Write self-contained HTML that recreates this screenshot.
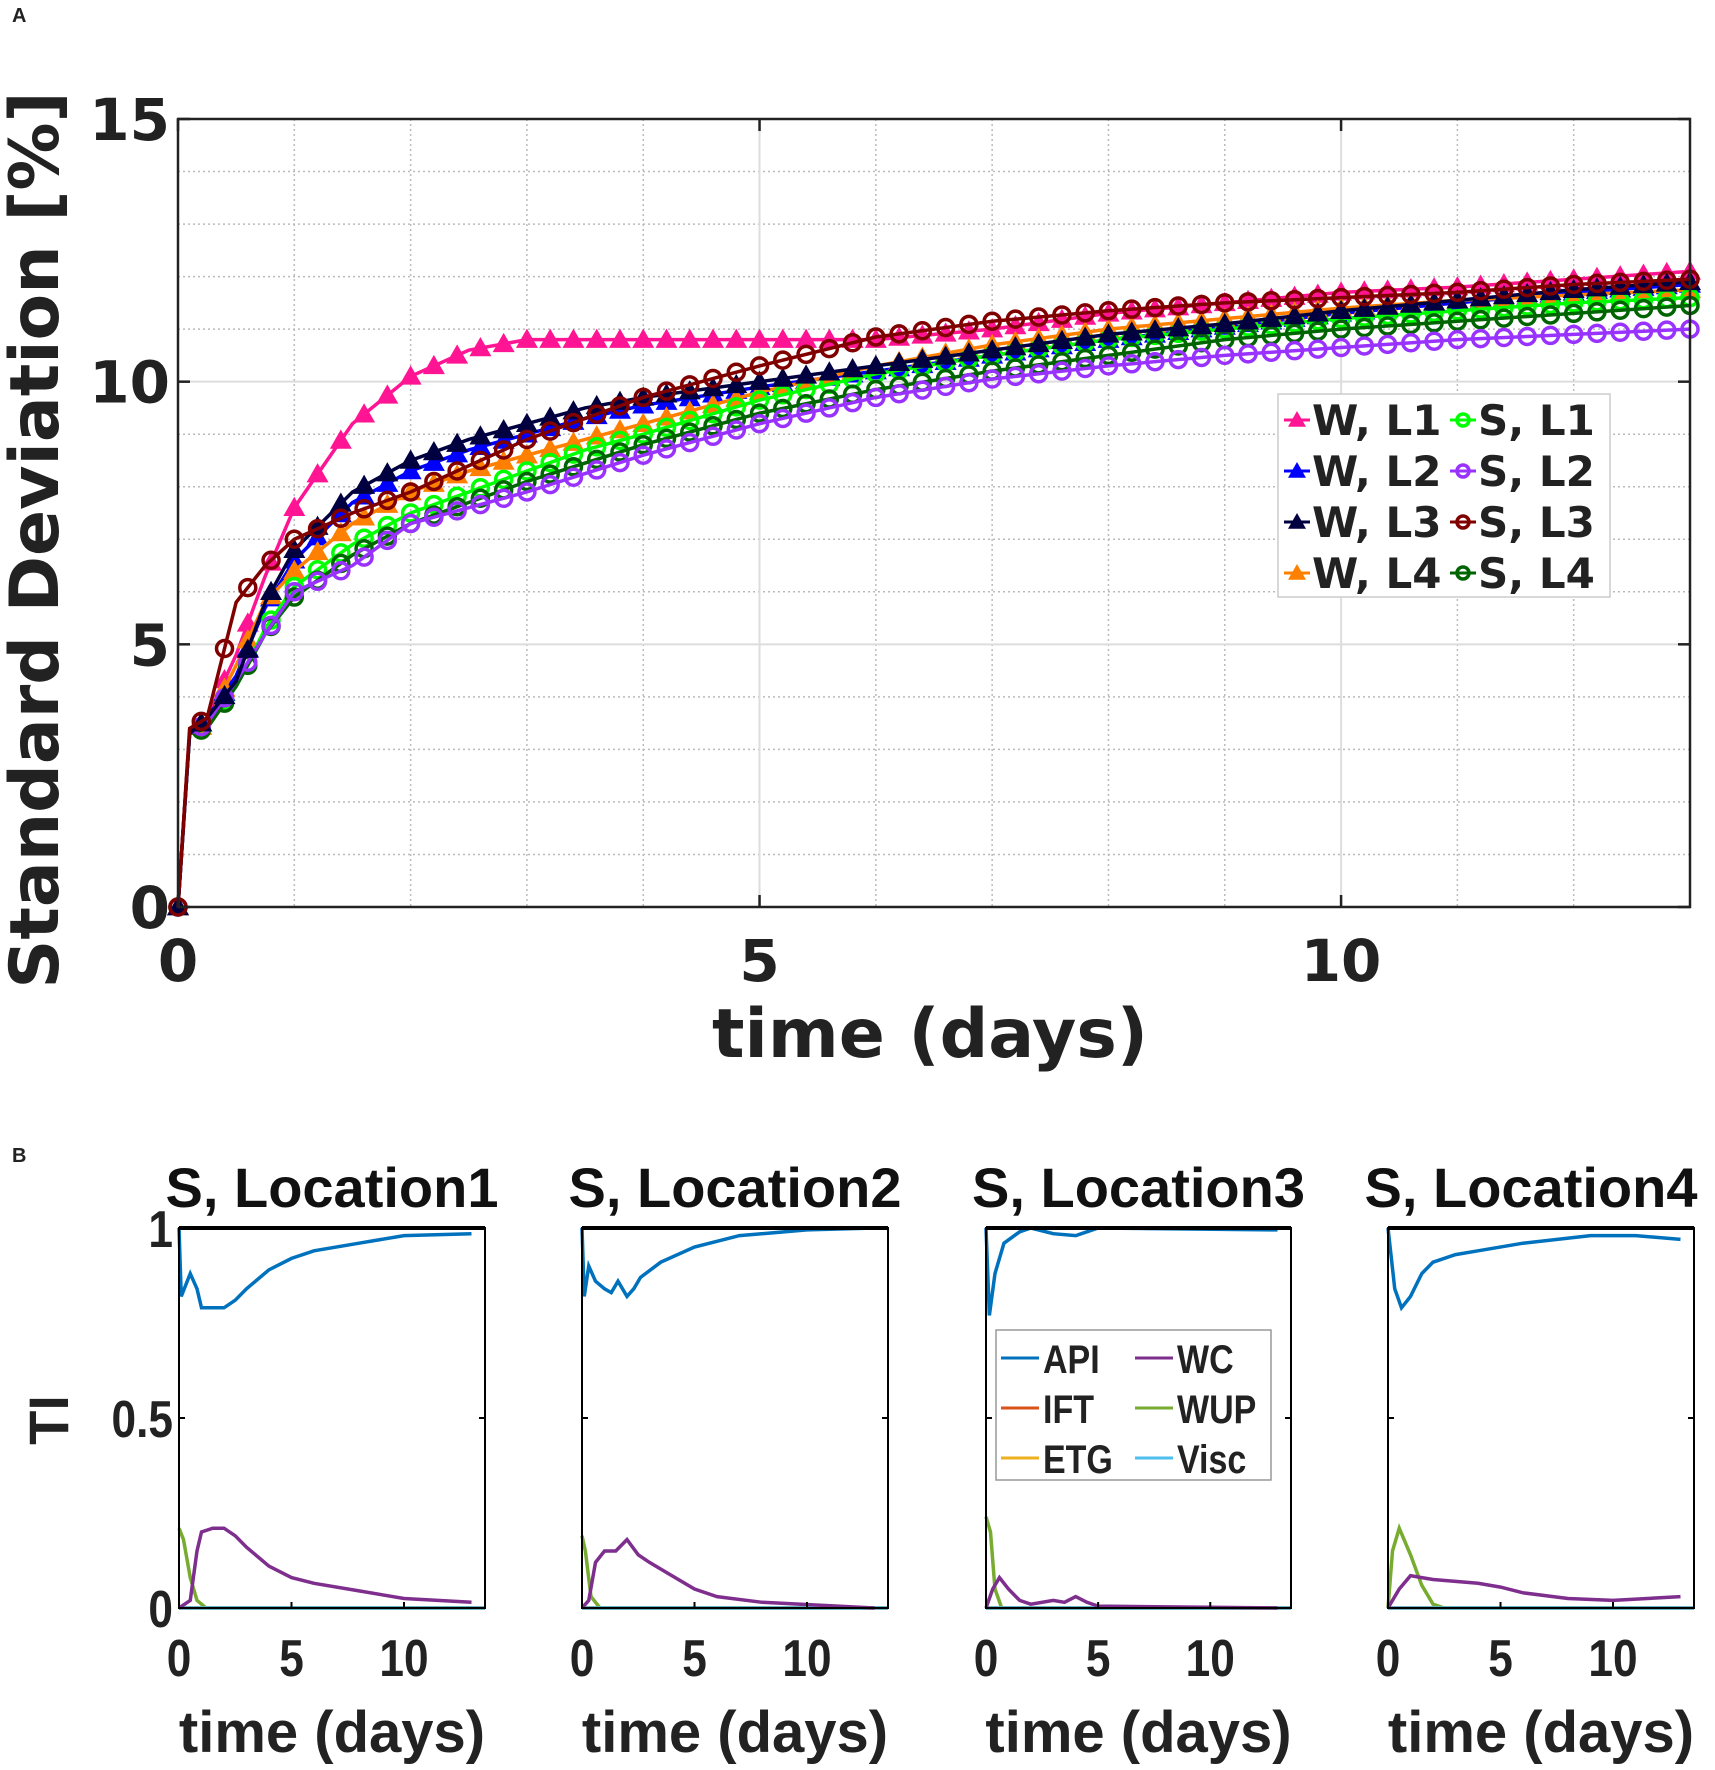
<!DOCTYPE html>
<html><head><meta charset="utf-8"><style>
html,body{margin:0;padding:0;background:#fff;}
svg{display:block;}
.dj{font-family:"DejaVu Sans","Liberation Sans",sans-serif;font-weight:bold;}
.ls{font-family:"Liberation Sans",sans-serif;font-weight:bold;}
</style></head><body>
<svg id="fig" width="1715" height="1770" viewBox="0 0 1715 1770" xmlns="http://www.w3.org/2000/svg">
<text x="12" y="22" class="ls" font-size="20" fill="#222">A</text>
<text x="12" y="1162" class="ls" font-size="20" fill="#222">B</text>
<g id="topchart"></g>
<g id="bottom"></g>
</svg>
<script>
// ---- Top chart data ----
const topTimes = [0, 0.1, 0.25, 0.5, 0.75, 1, 1.5, 2, 2.5, 3, 3.5, 4, 5, 6, 7, 8, 9, 10, 11, 12, 13];
const wL1 = [0, 3.3, 3.6, 4.8, 6.3, 7.6, 9.2, 10.1, 10.6, 10.8, 10.8, 10.8, 10.8, 10.8, 11.0, 11.3, 11.5, 11.7, 11.8, 11.95, 12.1];
const wL2 = [0, 3.3, 3.6, 4.4, 5.7, 6.6, 7.7, 8.3, 8.7, 9.0, 9.3, 9.55, 9.9, 10.2, 10.5, 10.8, 11.05, 11.3, 11.5, 11.7, 11.85];
const wL3 = [0, 3.3, 3.6, 4.3, 5.8, 6.8, 7.9, 8.5, 8.9, 9.2, 9.5, 9.7, 10.0, 10.3, 10.6, 10.9, 11.1, 11.35, 11.55, 11.75, 11.9];
const wL4 = [0, 3.3, 3.5, 4.6, 5.8, 6.4, 7.3, 7.9, 8.3, 8.6, 8.9, 9.2, 9.8, 10.3, 10.7, 11.0, 11.2, 11.4, 11.55, 11.65, 11.75];
const sL1 = [0, 3.3, 3.5, 4.2, 5.3, 6.1, 6.9, 7.5, 7.9, 8.3, 8.7, 9.0, 9.65, 10.15, 10.5, 10.8, 11.0, 11.2, 11.35, 11.5, 11.6];
const sL2 = [0, 3.3, 3.5, 4.3, 5.2, 6.0, 6.5, 7.3, 7.6, 7.9, 8.25, 8.6, 9.2, 9.7, 10.05, 10.3, 10.5, 10.65, 10.8, 10.9, 11.0];
const sL3 = [0, 3.4, 3.6, 5.8, 6.5, 7.0, 7.5, 7.9, 8.4, 8.9, 9.3, 9.7, 10.3, 10.85, 11.15, 11.35, 11.5, 11.6, 11.7, 11.85, 11.95];
const sL4 = [0, 3.3, 3.4, 4.2, 5.2, 5.9, 6.7, 7.3, 7.7, 8.1, 8.45, 8.8, 9.4, 9.85, 10.2, 10.5, 10.8, 11.0, 11.15, 11.3, 11.45];
const topXTicks = [0, 5, 10];
const topYTicks = [0, 5, 10, 15];
const legendLabels = ["W, L1","S, L1","W, L2","S, L2","W, L3","S, L3","W, L4","S, L4"];

// ---- Bottom panels data ----
const panelTitles = ["S, Location1","S, Location2","S, Location3","S, Location4"];
const p1ApiT=[0,0.1,0.3,0.5,0.8,1.0,1.5,2,2.5,3,4,5,6,8,10,13];
const p1Api=[1,0.82,0.85,0.88,0.84,0.79,0.79,0.79,0.81,0.84,0.89,0.92,0.94,0.96,0.98,0.985];
const p1WcT=[0,0.5,0.8,1,1.5,2,2.5,3,4,5,6,8,10,13];
const p1Wc=[0,0.02,0.15,0.2,0.21,0.21,0.19,0.16,0.11,0.08,0.065,0.045,0.025,0.015];
const p1WupT=[0,0.2,0.5,0.8,1.2,13];
const p1Wup=[0.21,0.18,0.08,0.02,0,0];
const p2ApiT=[0,0.1,0.3,0.6,1,1.3,1.6,2,2.3,2.6,3.5,5,7,10,13];
const p2Api=[1,0.82,0.9,0.86,0.84,0.83,0.86,0.82,0.84,0.87,0.91,0.95,0.98,0.995,1.0];
const p2WcT=[0,0.3,0.6,1,1.5,2,2.5,3,4,5,6,8,13];
const p2Wc=[0,0.02,0.12,0.15,0.15,0.18,0.14,0.12,0.085,0.05,0.03,0.015,0];
const p2WupT=[0,0.15,0.4,0.8,13];
const p2Wup=[0.19,0.15,0.03,0,0];
const p3ApiT=[0,0.15,0.4,0.8,1.5,2,3,4,4.5,5,13];
const p3Api=[1,0.77,0.88,0.96,0.99,1.0,0.985,0.98,0.99,1.0,0.995];
const p3WcT=[0,0.3,0.6,1,1.5,2,3,3.5,4,4.5,5,13];
const p3Wc=[0,0.05,0.08,0.05,0.02,0.01,0.02,0.015,0.03,0.015,0.005,0];
const p3WupT=[0,0.2,0.4,0.7,13];
const p3Wup=[0.24,0.2,0.05,0,0];
const p4ApiT=[0,0.3,0.6,1,1.5,2,3,4,6,9,11,13];
const p4Api=[1,0.84,0.79,0.82,0.88,0.91,0.93,0.94,0.96,0.98,0.98,0.97];
const p4WcT=[0,0.5,1,1.5,2,3,4,5,6,8,10,13];
const p4Wc=[0,0.05,0.085,0.08,0.075,0.07,0.065,0.055,0.04,0.025,0.02,0.03];
const p4WupT=[0,0.2,0.5,1,1.5,2,2.5,13];
const p4Wup=[0,0.15,0.21,0.14,0.06,0.01,0,0];
const panelXTicks=[0,5,10];
const panelYTicks=[0,0.5,1];
const panelYTickLabels=["0","0.5","1"];
const bLegend=["API","WC","IFT","WUP","ETG","Visc"];

const NS="http://www.w3.org/2000/svg";
function mk(tag, attrs, parent){const e=document.createElementNS(NS,tag);for(const k in attrs)e.setAttribute(k,attrs[k]);parent.appendChild(e);return e;}
function interp(ts,vs,t){for(let i=1;i<ts.length;i++){if(t<=ts[i]){const f=(t-ts[i-1])/(ts[i]-ts[i-1]);return vs[i-1]+f*(vs[i]-vs[i-1]);}}return vs[vs.length-1];}

// ---- Top chart ----
const topG=document.getElementById('topchart');
const AL=178,AR=1690,AT=119,AB=907,XMAX=13,YMAX=15;
const xs=v=>AL+(AR-AL)*v/XMAX, ys=v=>AB-(AB-AT)*v/YMAX;
for(let i=1;i<=13;i++){if(i%5===0)continue;const g=mk('line',{x1:xs(i),x2:xs(i),y1:AT,y2:AB,stroke:'#bbb','stroke-width':1.5,'stroke-dasharray':'2,3'},topG);

}
for(let i=1;i<15;i++){if(i%5===0)continue;const g=mk('line',{x1:AL,x2:AR,y1:ys(i),y2:ys(i),stroke:'#bbb','stroke-width':1.5,'stroke-dasharray':'2,3'},topG);

}
[5,10].forEach(v=>{const g=mk('line',{x1:xs(v),x2:xs(v),y1:AT,y2:AB,stroke:'#ddd','stroke-width':2},topG);

});
[5,10].forEach(v=>{const g=mk('line',{x1:AL,x2:AR,y1:ys(v),y2:ys(v),stroke:'#ddd','stroke-width':2},topG);

});

const series=[
 {d:wL1,c:'#ff1493',m:'tri',n:'series-w-l1'},
 {d:wL2,c:'#0000ff',m:'tri',n:'series-w-l2'},
 {d:wL4,c:'#ff8000',m:'tri',n:'series-w-l4'},
 {d:sL1,c:'#00ff00',m:'circ',n:'series-s-l1'},
 {d:sL4,c:'#006400',m:'circ',n:'series-s-l4'},
 {d:sL2,c:'#9932ff',m:'circ',n:'series-s-l2'},
 {d:wL3,c:'#000040',m:'tri',n:'series-w-l3'},
 {d:sL3,c:'#800000',m:'circ',n:'series-s-l3'}
];
function marker(type,x,y,c,parent,sz){
 if(type==='tri'){const s=sz||11;return mk('polygon',{points:`${x},${y-s} ${x-s},${y+s*0.75} ${x+s},${y+s*0.75}`,fill:c},parent);}
 return mk('circle',{cx:x,cy:y,r:sz||8,fill:'none',stroke:c,'stroke-width':3.5},parent);
}
series.forEach(s=>{
 const g=mk('g',{},topG);
 
 
 const pts=topTimes.map((t,i)=>xs(t)+','+ys(s.d[i])).join(' ');
 mk('polyline',{points:pts,fill:'none',stroke:s.c,'stroke-width':3.5},g);
 for(let k=0;k<=65;k++){const t=k*0.2;const m=marker(s.m,xs(t),ys(interp(topTimes,s.d,t)),s.c,g);
 
 }
});
const frame=mk('rect',{x:AL,y:AT,width:AR-AL,height:AB-AT,fill:'none',stroke:'#222','stroke-width':2.5},topG);


topXTicks.forEach(v=>{mk('line',{x1:xs(v),x2:xs(v),y1:AB,y2:AB-12,stroke:'#222','stroke-width':2.5},topG);mk('line',{x1:xs(v),x2:xs(v),y1:AT,y2:AT+12,stroke:'#222','stroke-width':2.5},topG);
 const t=mk('text',{x:xs(v),y:AB+74,'text-anchor':'middle','font-size':58,fill:'#222',class:'dj'},topG);t.textContent=v;
 
 });
topYTicks.forEach(v=>{mk('line',{x1:AL,x2:AL+12,y1:ys(v),y2:ys(v),stroke:'#222','stroke-width':2.5},topG);mk('line',{x1:AR,x2:AR-12,y1:ys(v),y2:ys(v),stroke:'#222','stroke-width':2.5},topG);
 const t=mk('text',{x:AL-8,y:ys(v)+21,'text-anchor':'end','font-size':58,fill:'#222',class:'dj'},topG);t.textContent=v;
 
 });
const xt=mk('text',{x:930,y:1057,'text-anchor':'middle','font-size':68,fill:'#222',class:'dj'},topG);xt.textContent='time (days)';


const yt=mk('text',{x:0,y:0,'text-anchor':'middle','font-size':68,fill:'#222',class:'dj',transform:'translate(58,540) rotate(-90)'},topG);yt.textContent='Standard Deviation [%]';


// legend
const lg=mk('g',{},topG);


mk('rect',{x:1278,y:394,width:332,height:203,fill:'#fff',stroke:'#ccc','stroke-width':1.5},lg);
const legCols=[{c:'#ff1493',m:'tri'},{c:'#00ff00',m:'circ'},{c:'#0000ff',m:'tri'},{c:'#9932ff',m:'circ'},{c:'#000040',m:'tri'},{c:'#800000',m:'circ'},{c:'#ff8000',m:'tri'},{c:'#006400',m:'circ'}];
legendLabels.forEach((lab,i)=>{
 const col=i%2,row=Math.floor(i/2);const x0=1284+col*166,y0=420+row*51;
 const e=mk('g',{},lg);
 
 
 mk('line',{x1:x0,x2:x0+26,y1:y0,y2:y0,stroke:legCols[i].c,'stroke-width':3},e);
 marker(legCols[i].m,x0+13,y0,legCols[i].c,e,legCols[i].m==='tri'?9:6);
 const t=mk('text',{x:x0+28,y:y0+15,'font-size':42,fill:'#222',class:'dj'},e);t.textContent=lab;
});

// ---- Bottom panels ----
const bot=document.getElementById('bottom');
const panels=[
 {l:179,r:485,api:[p1ApiT,p1Api],wc:[p1WcT,p1Wc],wup:[p1WupT,p1Wup]},
 {l:582,r:888,api:[p2ApiT,p2Api],wc:[p2WcT,p2Wc],wup:[p2WupT,p2Wup]},
 {l:986,r:1291,api:[p3ApiT,p3Api],wc:[p3WcT,p3Wc],wup:[p3WupT,p3Wup]},
 {l:1388,r:1694,api:[p4ApiT,p4Api],wc:[p4WcT,p4Wc],wup:[p4WupT,p4Wup]}
];
const PT=1228,PB=1608,PX=13.6;
panels.forEach((p,i)=>{
 const g=mk('g',{},bot);
 
 
 const px=v=>p.l+(p.r-p.l)*v/PX, py=v=>PB-(PB-PT)*v;
 const line=(ts,vs,c,nm)=>{const e=mk('polyline',{points:ts.map((t,k)=>px(t)+','+py(vs[k])).join(' '),fill:'none',stroke:c,'stroke-width':3.5},g);
  
  };
 line([0,PX],[0,0],'#EDB120','etg-line');
 line([0,PX],[0,0],'#D95319','ift-line');
 line(p.wup[0],p.wup[1],'#77AC30','wup-line');
 line([0,PX],[0,0],'#4DBEEE','visc-line');
 line(p.wc[0],p.wc[1],'#7E2F8E','wc-line');
 line(p.api[0],p.api[1],'#0072BD','api-line');
 mk('rect',{x:p.l,y:PT,width:p.r-p.l,height:PB-PT,fill:'none',stroke:'#000','stroke-width':2},g);
 mk('line',{x1:p.l,x2:p.r,y1:PT,y2:PT,stroke:'#000','stroke-width':4},g);
 panelXTicks.forEach(v=>{mk('line',{x1:px(v),x2:px(v),y1:PB,y2:PB-6,stroke:'#000','stroke-width':2},g);
  const t=mk('text',{x:px(v),y:1676,'text-anchor':'middle','font-size':52,fill:'#222',class:'ls',transform:`translate(${px(v)},0) scale(0.85,1) translate(${-px(v)},0)`},g);t.textContent=v;
  
  });
 panelYTicks.forEach(v=>{mk('line',{x1:p.l,x2:p.l+6,y1:py(v),y2:py(v),stroke:'#000','stroke-width':2},g);mk('line',{x1:p.r,x2:p.r-6,y1:py(v),y2:py(v),stroke:'#000','stroke-width':2},g);});
 const cx=(p.l+p.r)/2+(i===3?-10:0);
 const ti=mk('text',{x:cx,y:1207,'text-anchor':'middle','font-size':56,fill:'#111',class:'ls'},g);ti.textContent=panelTitles[i];
 
 
 const xl=mk('text',{x:(p.l+p.r)/2,y:1752,'text-anchor':'middle','font-size':58,fill:'#222',class:'ls'},g);xl.textContent='time (days)';
 
 
 if(i===0){
  panelYTicks.forEach((v,k)=>{const t=mk('text',{x:p.l-6,y:py(v)+19,'text-anchor':'end','font-size':52,fill:'#222',class:'ls',transform:`translate(${p.l-6},0) scale(0.85,1) translate(${-(p.l-6)},0)`},g);t.textContent=panelYTickLabels[k];
   
   });
  const yl=mk('text',{x:0,y:0,'text-anchor':'middle','font-size':56,fill:'#222',class:'ls',transform:'translate(68,1420) rotate(-90)'},g);yl.textContent='TI';
  
  
 }
});
// panel 3 legend
const bl=mk('g',{},bot);


mk('rect',{x:996,y:1330,width:275,height:150,fill:'#fff',stroke:'#999','stroke-width':1.5},bl);
const bCols=['#0072BD','#7E2F8E','#D95319','#77AC30','#EDB120','#4DBEEE'];
bLegend.forEach((lab,i)=>{
 const col=i%2,row=Math.floor(i/2);const x0=1001+col*134,y0=1358+row*50;
 const e=mk('g',{},bl);
 
 
 mk('line',{x1:x0,x2:x0+38,y1:y0,y2:y0,stroke:bCols[i],'stroke-width':3},e);
 const t=mk('text',{x:x0+42,y:y0+15,'font-size':40,fill:'#222',class:'ls',transform:`translate(${x0+42},0) scale(0.85,1) translate(${-(x0+42)},0)`},e);t.textContent=lab;
});
</script>
</body></html>
